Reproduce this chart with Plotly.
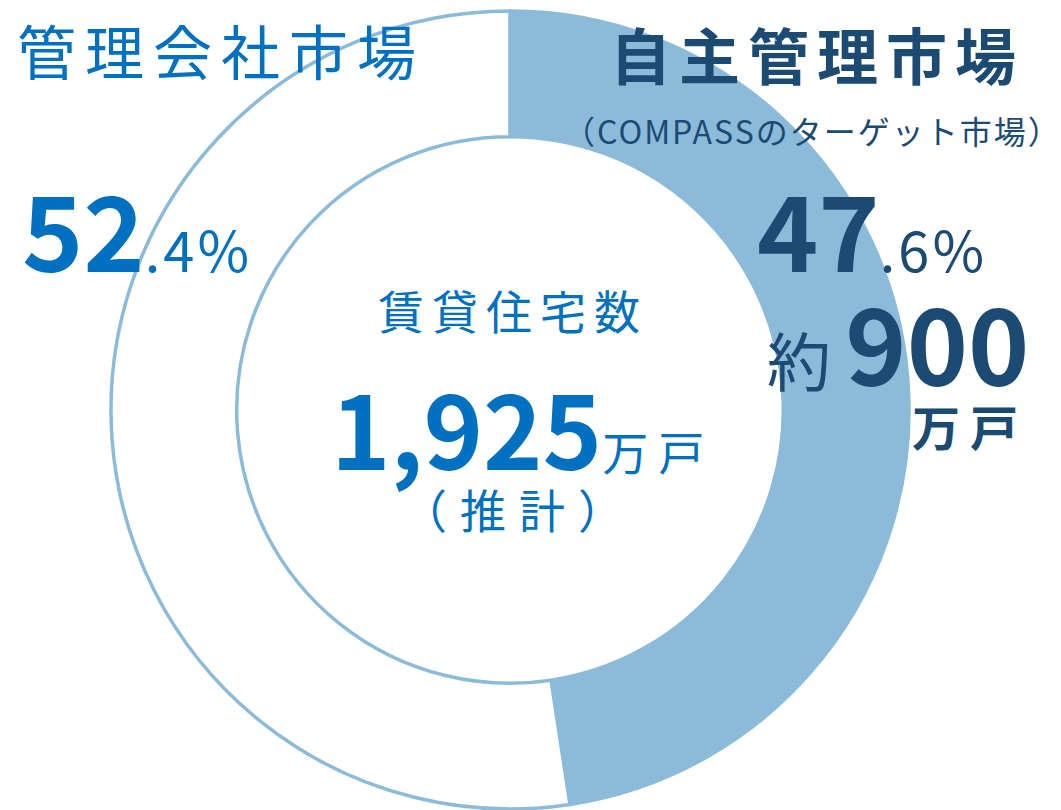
import plotly.graph_objects as go

# the page body has an 8px margin, so the figure is drawn 8px in from the corner
OFF = 8
W, H = 1061 - OFF, 810 - OFF

# market share data
labels = ["自主管理市場", "管理会社市場"]
shares = [47.6, 52.4]
slice_colors = ["#8CBBDA", "#FFFFFF"]

total_units = "1,925"
self_units = "900"

BLUE = "#0070C0"
NAVY = "#1B4A72"
RING = "#8CBBDA"
FONT = "Noto Sans CJK JP"


def px(x, y):
    # reference pixel -> paper coords
    return (x - OFF) / W, 1 - (y - OFF) / H


def ann(x, y, text, size, color, xanchor="left", yanchor="middle"):
    xx, yy = px(x, y)
    return dict(x=xx, y=yy, xref="paper", yref="paper", text=text, showarrow=False,
                xanchor=xanchor, yanchor=yanchor,
                font=dict(family=FONT, size=size, color=color))


def spaced(s, sp):
    return f"<span style='letter-spacing:{sp}px'>{s}</span>"


cx, cy, r = 510, 410, 399
x0, y1 = px(cx - r, cy - r)
x1, y0 = px(cx + r, cy + r)

fig = go.Figure(go.Pie(
    labels=labels, values=shares, sort=False, direction="clockwise", rotation=0,
    hole=0.685, textinfo="none", hoverinfo="skip", showlegend=False,
    marker=dict(colors=slice_colors, line=dict(color=RING, width=3.5)),
    domain=dict(x=[x0, x1], y=[max(y0, 0), min(y1, 1)]),
))

small = "font-size:56px;letter-spacing:3px"
annotations = [
    ann(15, 50, spaced("管理会社市場", 9), 59, BLUE),
    ann(20, 226, f"<b>52</b><span style='{small}'>.4%</span>", 104, BLUE),
    ann(608, 53, "<b>" + spaced("自主管理市場", 8) + "</b>", 61, NAVY),
    ann(561, 130, spaced("（COMPASSのターゲット市場", 2) + "）", 32, NAVY),
    ann(755, 226, f"<b>47</b><span style='{small}'>.6%</span>", 104, NAVY),
    ann(765, 341, f"<span style='font-size:64px'>約 </span><b>{self_units}</b>", 104, NAVY),
    ann(910, 425, "<b>" + spaced("万戸", 10) + "</b>", 48, NAVY),
    ann(513, 309, spaced("賃貸住宅数", 8), 46, BLUE, xanchor="center"),
    ann(329, 426, f"<b>{total_units}</b><span style='font-size:46px'>" + spaced("万戸", 10) + "</span>", 101, BLUE),
    ann(519, 508, spaced("（推計）", 13), 46, BLUE, xanchor="center"),
]

fig.update_layout(
    width=W, height=H, margin=dict(l=0, r=0, t=0, b=0),
    paper_bgcolor="white", plot_bgcolor="white",
    annotations=annotations,
)

fig.write_html("out.html")
